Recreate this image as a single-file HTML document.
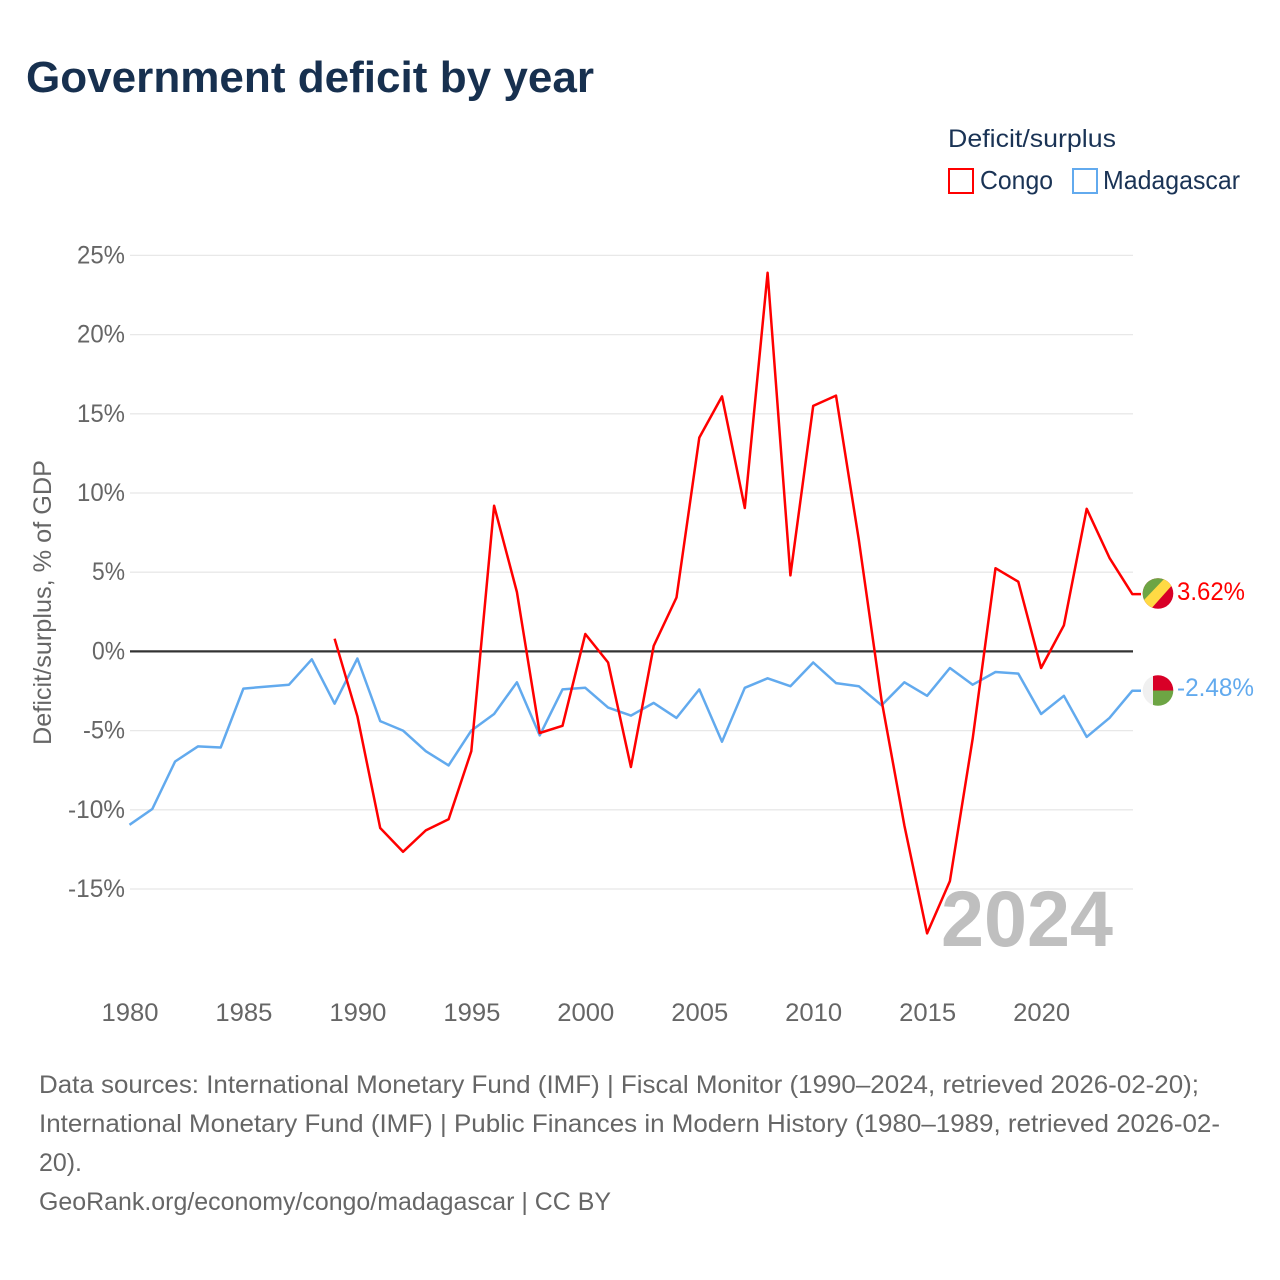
<!DOCTYPE html>
<html lang="en">
<head>
<meta charset="utf-8">
<title>Government deficit by year</title>
<style>
html,body{margin:0;padding:0;background:#fff;}
svg{display:block;font-family:"Liberation Sans",sans-serif;}
</style>
</head>
<body>
<svg id="chart" width="1280" height="1280" viewBox="0 0 1280 1280" xmlns="http://www.w3.org/2000/svg">
  <text x="26" y="92" font-size="44" font-weight="700" fill="#17304f" textLength="568" lengthAdjust="spacingAndGlyphs">Government deficit by year</text>

  <g>
    <text x="948" y="147" font-size="25" fill="#1a3355" textLength="168" lengthAdjust="spacingAndGlyphs">Deficit/surplus</text>
    <g>
      <rect x="949" y="169" width="24" height="24" fill="none" stroke="#ff0000" stroke-width="2"/>
      <text x="980" y="189" font-size="26" fill="#1a3355" textLength="73" lengthAdjust="spacingAndGlyphs">Congo</text>
    </g>
    <g>
      <rect x="1073" y="169" width="24" height="24" fill="none" stroke="#62aaee" stroke-width="2"/>
      <text x="1103" y="189" font-size="26" fill="#1a3355" textLength="137" lengthAdjust="spacingAndGlyphs">Madagascar</text>
    </g>
  </g>

  <g id="grid"></g>
  <g id="yTicks"></g>
  <g id="xTicks"></g>
  <text transform="translate(51,745) rotate(-90)" font-size="25" fill="#666" textLength="285" lengthAdjust="spacingAndGlyphs">Deficit/surplus, % of GDP</text>
  <text x="941" y="946" font-size="79" font-weight="700" fill="#bfbfbf" textLength="172" lengthAdjust="spacingAndGlyphs">2024</text>
  <g id="series"></g>

  <g>
    <clipPath id="clipCg"><circle cx="1158" cy="593.5" r="15.3"/></clipPath>
    <g clip-path="url(#clipCg)">
      <rect x="1142" y="578" width="32" height="32" fill="#d80027"/>
      <polygon points="1142,578 1168,578 1142,604" fill="#6da544"/>
      <polygon points="1165,578 1174,578 1174,583 1150,610 1142,610 1142,602" fill="#ffda44"/>
    </g>
  </g>
  <text id="labelCongo" x="1177" y="600" font-size="25" fill="#ff0000" textLength="68" lengthAdjust="spacingAndGlyphs"></text>

  <g>
    <clipPath id="clipMg"><circle cx="1158" cy="690.5" r="15.3"/></clipPath>
    <g clip-path="url(#clipMg)">
      <rect x="1142" y="675" width="12" height="32" fill="#f0f0f0"/>
      <rect x="1153" y="675" width="21" height="15.5" fill="#d80027"/>
      <rect x="1153" y="690.5" width="21" height="16" fill="#6da544"/>
    </g>
  </g>
  <text id="labelMada" x="1177" y="696" font-size="25" fill="#62aaee" textLength="77" lengthAdjust="spacingAndGlyphs"></text>

  <g font-size="25" fill="#666">
    <text x="39" y="1093" textLength="1160" lengthAdjust="spacingAndGlyphs">Data sources: International Monetary Fund (IMF) | Fiscal Monitor (1990–2024, retrieved 2026-02-20);</text>
    <text x="39" y="1132" textLength="1181" lengthAdjust="spacingAndGlyphs">International Monetary Fund (IMF) | Public Finances in Modern History (1980–1989, retrieved 2026-02-</text>
    <text x="39" y="1171" textLength="43" lengthAdjust="spacingAndGlyphs">20).</text>
    <text x="39" y="1210" textLength="572" lengthAdjust="spacingAndGlyphs">GeoRank.org/economy/congo/madagascar | CC BY</text>
  </g>
</svg>
<script>
const congoYears = [1989,1990,1991,1992,1993,1994,1995,1996,1997,1998,1999,2000,2001,2002,2003,2004,2005,2006,2007,2008,2009,2010,2011,2012,2013,2014,2015,2016,2017,2018,2019,2020,2021,2022,2023,2024];
const congoValues = [0.8,-4.1,-11.15,-12.65,-11.3,-10.6,-6.3,9.2,3.75,-5.15,-4.7,1.1,-0.7,-7.3,0.35,3.4,13.5,16.1,9.05,23.9,4.8,15.5,16.15,7.05,-3.1,-11,-17.8,-14.5,-5.5,5.25,4.4,-1.05,1.65,9.0,5.9,3.62];
const madagascarYears = [1980,1981,1982,1983,1984,1985,1986,1987,1988,1989,1990,1991,1992,1993,1994,1995,1996,1997,1998,1999,2000,2001,2002,2003,2004,2005,2006,2007,2008,2009,2010,2011,2012,2013,2014,2015,2016,2017,2018,2019,2020,2021,2022,2023,2024];
const madagascarValues = [-10.95,-9.95,-6.95,-6.0,-6.07,-2.35,-2.22,-2.1,-0.5,-3.3,-0.45,-4.4,-5.0,-6.3,-7.2,-5.0,-3.95,-1.95,-5.3,-2.4,-2.3,-3.55,-4.05,-3.25,-4.2,-2.4,-5.7,-2.3,-1.7,-2.2,-0.7,-2.0,-2.2,-3.4,-1.95,-2.8,-1.05,-2.1,-1.3,-1.4,-3.95,-2.8,-5.4,-4.2,-2.48];
const yTickValues = [25,20,15,10,5,0,-5,-10,-15];
const xTickValues = [1980,1985,1990,1995,2000,2005,2010,2015,2020];

const NS = 'http://www.w3.org/2000/svg';
function xScale(year) { return 129.5 + (year - 1980) * 22.79; }
function yScale(v) { return 651.4 - v * 15.84; }

const gridG = document.getElementById('grid');
const yG = document.getElementById('yTicks');
const xG = document.getElementById('xTicks');
const seriesG = document.getElementById('series');

yTickValues.forEach(function (v) {
  const line = document.createElementNS(NS, 'line');
  
  
  line.setAttribute('x1', 130);
  line.setAttribute('x2', 1133);
  line.setAttribute('y1', yScale(v));
  line.setAttribute('y2', yScale(v));
  line.setAttribute('stroke', v === 0 ? '#333333' : '#e8e8e8');
  line.setAttribute('stroke-width', v === 0 ? 2.2 : 1.3);
  gridG.appendChild(line);

  const label = document.createElementNS(NS, 'text');
  
  
  const str = v + '%';
  const width = (String(Math.abs(v)).length === 2 ? 48 : 33) + (v < 0 ? 9 : 0);
  label.setAttribute('x', 125 - width);
  label.setAttribute('y', yScale(v) + 8);
  label.setAttribute('font-size', 25);
  label.setAttribute('fill', '#666');
  label.setAttribute('textLength', width);
  label.setAttribute('lengthAdjust', 'spacingAndGlyphs');
  label.textContent = str;
  yG.appendChild(label);
});

xTickValues.forEach(function (year) {
  const label = document.createElementNS(NS, 'text');
  
  
  label.setAttribute('x', xScale(year) - 28);
  label.setAttribute('y', 1021);
  label.setAttribute('font-size', 25);
  label.setAttribute('fill', '#666');
  label.setAttribute('textLength', 57);
  label.setAttribute('lengthAdjust', 'spacingAndGlyphs');
  label.textContent = year;
  xG.appendChild(label);
});

function linePath(years, values) {
  const pts = years.map(function (y, i) { return xScale(y).toFixed(1) + ',' + yScale(values[i]).toFixed(1); });
  const lastY = yScale(values[values.length - 1]).toFixed(1);
  pts.push('1141,' + lastY);
  return pts.join(' ');
}

const madaLine = document.createElementNS(NS, 'polyline');


madaLine.setAttribute('points', linePath(madagascarYears, madagascarValues));
madaLine.setAttribute('fill', 'none');
madaLine.setAttribute('stroke', '#62aaee');
madaLine.setAttribute('stroke-width', 2.5);
madaLine.setAttribute('stroke-linejoin', 'round');
seriesG.appendChild(madaLine);

const congoLine = document.createElementNS(NS, 'polyline');


congoLine.setAttribute('points', linePath(congoYears, congoValues));
congoLine.setAttribute('fill', 'none');
congoLine.setAttribute('stroke', '#ff0000');
congoLine.setAttribute('stroke-width', 2.5);
congoLine.setAttribute('stroke-linejoin', 'round');
seriesG.appendChild(congoLine);

document.getElementById('labelCongo').textContent = congoValues[congoValues.length - 1].toFixed(2) + '%';
document.getElementById('labelMada').textContent = madagascarValues[madagascarValues.length - 1].toFixed(2) + '%';
</script>
</body>
</html>
